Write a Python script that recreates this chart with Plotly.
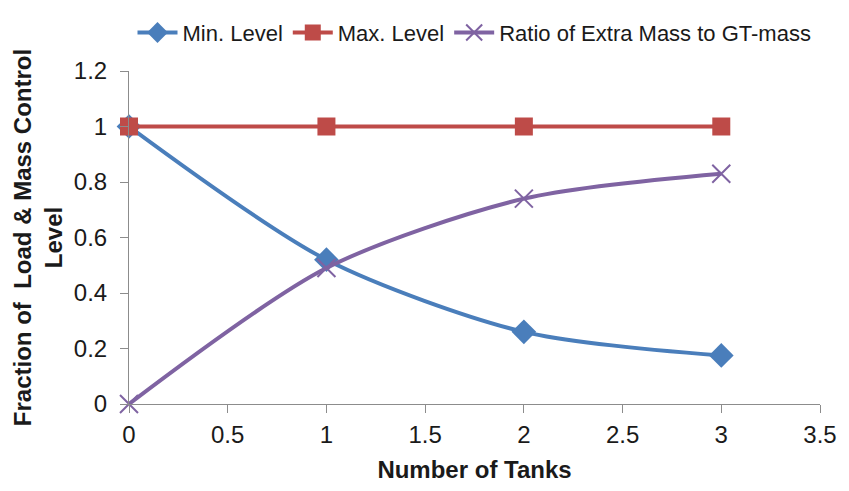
import plotly.graph_objects as go

tanks = [0, 1, 2, 3]
min_level = [1.0, 0.52, 0.26, 0.175]
max_level = [1.0, 1.0, 1.0, 1.0]
ratio_extra = [0.0, 0.49, 0.74, 0.83]

x_ticks = [0, 0.5, 1, 1.5, 2, 2.5, 3, 3.5]
y_ticks = [0, 0.2, 0.4, 0.6, 0.8, 1, 1.2]

FONT = "Liberation Sans, Arial, sans-serif"
TXT = "#1a1a1a"
FS = 24

fig = go.Figure()
fig.add_trace(go.Scatter(
    x=tanks, y=min_level, name="Min. Level", mode="lines+markers",
    line=dict(color="#4A7EBB", width=4, shape="spline", smoothing=0.8),
    marker=dict(symbol="diamond", size=19, color="#4A7EBB"),
))
fig.add_trace(go.Scatter(
    x=tanks, y=max_level, name="Max. Level", mode="lines+markers",
    line=dict(color="#BE4B48", width=4),
    marker=dict(symbol="square", size=18, color="#BE4B48"),
))
fig.add_trace(go.Scatter(
    x=tanks, y=ratio_extra, name="Ratio of Extra Mass to GT-mass", mode="lines+markers",
    line=dict(color="#7F63A2", width=4, shape="spline", smoothing=0.8),
    marker=dict(symbol="x-thin-open", size=18, color="#7F63A2",
                line=dict(color="#7F63A2", width=2)),
))

axis_common = dict(
    showgrid=False, zeroline=False, showline=True, linecolor="#8C8C8C", linewidth=1,
    ticks="outside", ticklen=8, tickcolor="#8C8C8C",
    tickfont=dict(family=FONT, size=FS, color=TXT),
)

fig.update_layout(
    width=849, height=491,
    margin=dict(l=129, r=20, t=68, b=82),
    paper_bgcolor="white", plot_bgcolor="white",
    font=dict(family=FONT, color=TXT),
    showlegend=True,
    legend=dict(orientation="h", x=0.5, xanchor="center", y=1.115, yanchor="middle",
                font=dict(family=FONT, size=22, color=TXT), itemwidth=40),
    xaxis=dict(range=[0, 3.5], tickvals=x_ticks, ticktext=[f"{v:g}" for v in x_ticks],
               ticklabelstandoff=1,
               title=dict(text="<b>Number of Tanks</b>", font=dict(family=FONT, size=FS, color=TXT),
                          standoff=14),
               **axis_common),
    yaxis=dict(range=[0, 1.2], tickvals=y_ticks, ticktext=[f"{v:g}" for v in y_ticks],
               ticklabelstandoff=8,
               title=dict(text="<b>Fraction of  Load & Mass Control<br>Level</b>",
                          font=dict(family=FONT, size=FS, color=TXT), standoff=4),
               **axis_common),
)
fig.update_traces(cliponaxis=False)

fig.write_html("out.html")
